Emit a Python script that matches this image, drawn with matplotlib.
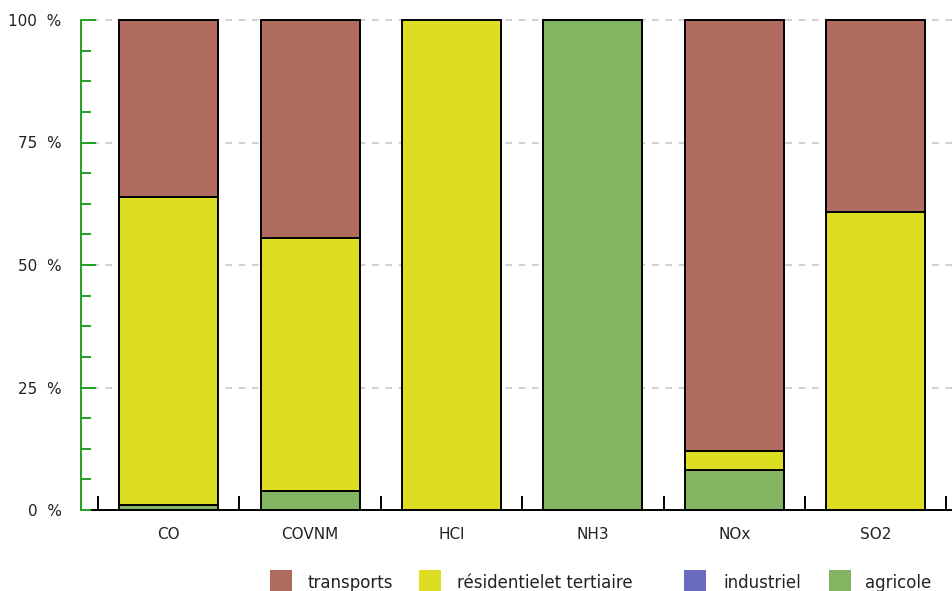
import matplotlib
matplotlib.use("Agg")
import matplotlib.pyplot as plt
from matplotlib.patches import Rectangle
from matplotlib.ticker import FixedLocator, MultipleLocator
import numpy as np

# Part of each sector in the emissions of each pollutant (%)
pollutants = ["CO", "COVNM", "HCl", "NH3", "NOx", "SO2"]
agricole = [1.0, 3.8, 0.0, 100.0, 8.1, 0.0]
industriel = [0.0, 0.0, 0.0, 0.0, 0.0, 0.0]
residentiel = [62.9, 51.7, 100.0, 0.0, 4.0, 60.8]
transports = [36.1, 44.5, 0.0, 0.0, 87.9, 39.2]

sectors = ["transports", "résidentielet tertiaire", "industriel", "agricole"]
sector_colors = ["#b06b5f", "#dddd22", "#6a6abf", "#82b462"]

y_ticks = [0, 25, 50, 75, 100]
y_labels = ["0  %", "25  %", "50  %", "75  %", "100  %"]

W, H = 952, 591
fig = plt.figure(figsize=(W / 100, H / 100), dpi=100)
ax = fig.add_axes([81 / W, 1 - 510 / H, (W - 81) / W, 490 / H])

x = np.arange(len(pollutants))
width = 0.70
stack = [(agricole, sector_colors[3]), (industriel, sector_colors[2]),
         (residentiel, sector_colors[1]), (transports, sector_colors[0])]
bottom = np.zeros(len(pollutants))
for values, color in stack:
    vals = np.array(values)
    mask = vals > 0
    ax.bar(x[mask], vals[mask], width, bottom=bottom[mask], color=color,
           edgecolor="black", linewidth=1.4, zorder=3, clip_on=False)
    bottom += vals

ax.set_xlim(-0.5 - 17 / 141.3, len(pollutants) - 0.5 + 0.04)
ax.set_ylim(0, 100)

for s in ("top", "right"):
    ax.spines[s].set_visible(False)
ax.spines["left"].set_color("#22a022")
ax.spines["left"].set_linewidth(1.4)
ax.spines["left"].set_bounds(0, 100)
ax.spines["bottom"].set_color("black")
ax.spines["bottom"].set_linewidth(1.4)
ax.spines["bottom"].set_bounds(-0.545, len(pollutants) - 0.5 + 0.04)

ax.yaxis.set_major_locator(FixedLocator(y_ticks))
ax.set_yticklabels(y_labels)
ax.yaxis.set_minor_locator(MultipleLocator(6.25))
ax.tick_params(axis="y", which="major", direction="in", length=11, width=1.4,
               color="#22a022", pad=14, labelsize=11, labelcolor="#222222")
ax.tick_params(axis="y", which="minor", direction="in", length=7, width=1.4,
               color="#22a022")

ax.set_xticks(x)
ax.set_xticklabels(pollutants)
ax.xaxis.set_minor_locator(FixedLocator(np.arange(len(pollutants) + 1) - 0.5))
ax.tick_params(axis="x", which="major", length=0, pad=12, labelsize=11,
               labelcolor="#222222")
ax.tick_params(axis="x", which="minor", direction="in", length=10, width=1.4,
               color="black")

for yv in y_ticks[1:]:
    ax.plot([-0.545, len(pollutants) - 0.5 + 0.04], [yv, yv], color="#c8c8c8",
            linestyle=(0, (4, 4)), linewidth=1.2, zorder=1, clip_on=False)

# Legend drawn along the bottom edge
legend_items = [(270, 307), (419, 457), (684, 723), (829, 865)]
for (sq_x, tx_x), label, color in zip(legend_items, sectors, sector_colors):
    fig.patches.append(Rectangle((sq_x / W, 0), 22 / W, 21 / H,
                                 transform=fig.transFigure, facecolor=color,
                                 edgecolor="none"))
    fig.text(tx_x / W, 1 - 583 / H, label, fontsize=12, color="#222222",
             va="center", ha="left")

fig.savefig("out.png", dpi=100)
